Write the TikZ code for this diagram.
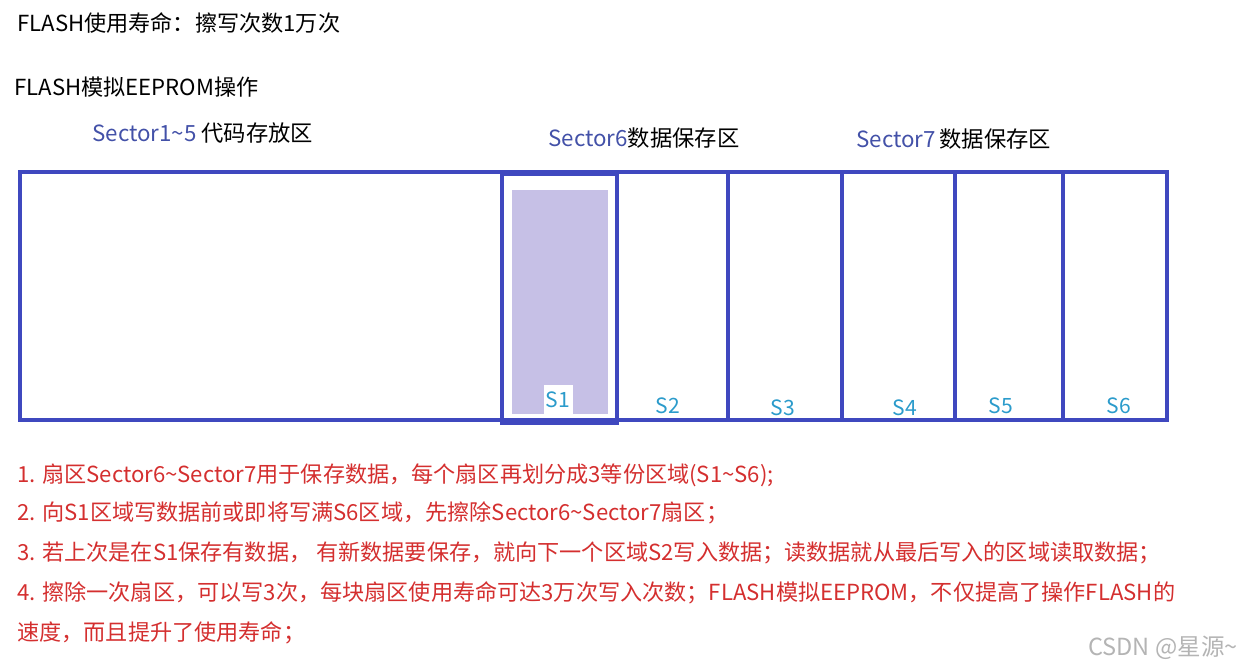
\documentclass[tikz,border=0pt]{standalone}
\usepackage{fontspec}
\setmainfont{Noto Sans CJK SC}
\usetikzlibrary{positioning}
\definecolor{boxblue}{HTML}{3F48BF}
\definecolor{secblue}{HTML}{4351A8}
\definecolor{slabcyan}{HTML}{2B9BCB}
\definecolor{notered}{HTML}{D42F2F}
\definecolor{usedfill}{HTML}{C6C0E6}
\definecolor{wmgray}{HTML}{B4B4B4}
\newcommand{\tl}{\textasciitilde}

\begin{document}
\begin{tikzpicture}[x=0.02cm, y=-0.02cm,
  cell/.style={draw=boxblue, line width=2.3pt},
  head/.style={anchor=west, inner sep=0pt, font=\fontsize{12.6}{15}\selectfont},
  sect/.style={anchor=west, inner sep=0pt, font=\fontsize{12.7}{15}\selectfont},
  slab/.style={inner sep=0pt, text=slabcyan, font=\fontsize{12}{14}\selectfont},
  note/.style={anchor=west, inner sep=0pt, text=notered, font=\fontsize{12.6}{15}\selectfont}]
  \useasboundingbox (0,0) rectangle (1241,667);
  % titles
  \node[head] (life) at (17,23) {FLASH使用寿命：擦写次数1万次};
  \node[head] (emu) at (14,87) {FLASH模拟EEPROM操作};
  % sector headings
  \node[sect] (sec15) at (92,133) {{\color{secblue}Sector1\tl5} 代码存放区};
  \node[sect] (sec6) at (548,138) {{\color{secblue}Sector6}数据保存区};
  \node[sect] (sec7) at (856,139) {{\color{secblue}Sector7}\,数据保存区};
  % flash map
  \fill[usedfill] (512,190) rectangle (608,414);
  \draw[cell] (20,172) rectangle (1167,420);
  \draw[cell] (502,174) rectangle (617,423);
  \foreach \x in {728,842,955,1063}
    \draw[cell] (\x,172) -- (\x,420);
  \node[slab, fill=white, minimum width=0.58cm, minimum height=0.6cm] (s1) at (558,400) {S1};
  \node[slab] (s2) at (668,406) {S2};
  \node[slab] (s3) at (783,408) {S3};
  \node[slab] (s4) at (905,408) {S4};
  \node[slab] (s5) at (1001,406) {S5};
  \node[slab] (s6) at (1119,406) {S6};
  % notes
  \node[note] (n1) at (17,475) {1. 扇区Sector6\tl Sector7用于保存数据，每个扇区再划分成3等份区域(S1\tl S6);};
  \node[note] (n2) at (17,513) {2. 向S1区域写数据前或即将写满S6区域，先擦除Sector6\tl Sector7扇区；};
  \node[note] (n3) at (17,553) {3. 若上次是在S1保存有数据， 有新数据要保存，就向下一个区域S2写入数据；读数据就从最后写入的区域读取数据；};
  \node[note] (n4) at (17,593) {4. 擦除一次扇区，可以写3次，每块扇区使用寿命可达3万次写入次数；FLASH模拟EEPROM，不仅提高了操作FLASH的};
  \node[note] (n5) at (17,633) {速度，而且提升了使用寿命；};
  \node[anchor=west, inner sep=0pt, text=wmgray, font=\fontsize{13.4}{15}\selectfont] (wm) at (1088,648) {CSDN @星源\tl};
\end{tikzpicture}
\end{document}
